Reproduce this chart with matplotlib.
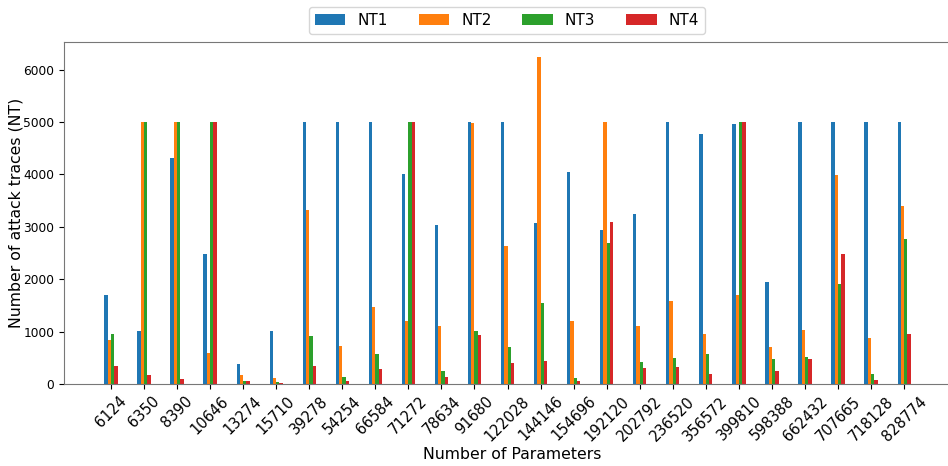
import matplotlib
matplotlib.use("Agg")
import matplotlib.pyplot as plt
import numpy as np

params = ["6124", "6350", "8390", "10646", "13274", "15710", "39278", "54254",
          "66584", "71272", "78634", "91680", "122028", "144146", "154696",
          "192120", "202792", "236520", "356572", "399810", "598388", "662432",
          "707665", "718128", "828774"]

nt1 = [1690, 1010, 4310, 2480, 380, 1020, 5000, 5000, 5000, 4000, 3030, 5000, 5000,
       3065, 4045, 2945, 3250, 5000, 4770, 4955, 1940, 5000, 5000, 5000, 5000]
nt2 = [840, 5000, 5000, 590, 165, 115, 3325, 730, 1470, 1200, 1105, 4975, 2635,
       6235, 1195, 5000, 1105, 1580, 950, 1700, 700, 1025, 3990, 885, 3390]
nt3 = [950, 5000, 5000, 5000, 57, 38, 915, 135, 565, 5000, 255, 1010, 705,
       1545, 115, 2695, 420, 495, 575, 5000, 470, 515, 1910, 190, 2775]
nt4 = [335, 165, 100, 5000, 57, 25, 345, 57, 285, 5000, 135, 935, 400,
       440, 57, 3085, 305, 320, 190, 5000, 255, 485, 2480, 85, 960]

series = [("NT1", nt1, "#1f77b4"), ("NT2", nt2, "#ff7f0e"),
          ("NT3", nt3, "#2ca02c"), ("NT4", nt4, "#d62728")]

fig = plt.figure(figsize=(9.48, 4.66), dpi=100)
ax = fig.add_axes([64/948, 82/466, 896/948, 342/466])

x = np.arange(len(params))
w = 0.1
for i, (name, vals, col) in enumerate(series):
    ax.bar(x + (i - 1.5) * w, vals, width=w, color=col, label=name)

ax.set_xlim(-1.42, 25.69)
ax.set_ylim(0, 6527)
ax.set_xticks(x)
ax.set_xticklabels(params, rotation=45, fontsize=10.5)
ax.tick_params(axis="y", labelsize=8.8)
ax.set_xlabel("Number of Parameters", fontsize=11.3, labelpad=2)
ax.set_ylabel("Number of attack traces (NT)", fontsize=11.3, labelpad=0)
for s in ax.spines.values():
    s.set_color("#777777")

fig.legend(loc="center", bbox_to_anchor=(507/948, 1 - 20.5/466), ncol=4,
           fontsize=11, frameon=True)

fig.savefig("out.png", dpi=100)
